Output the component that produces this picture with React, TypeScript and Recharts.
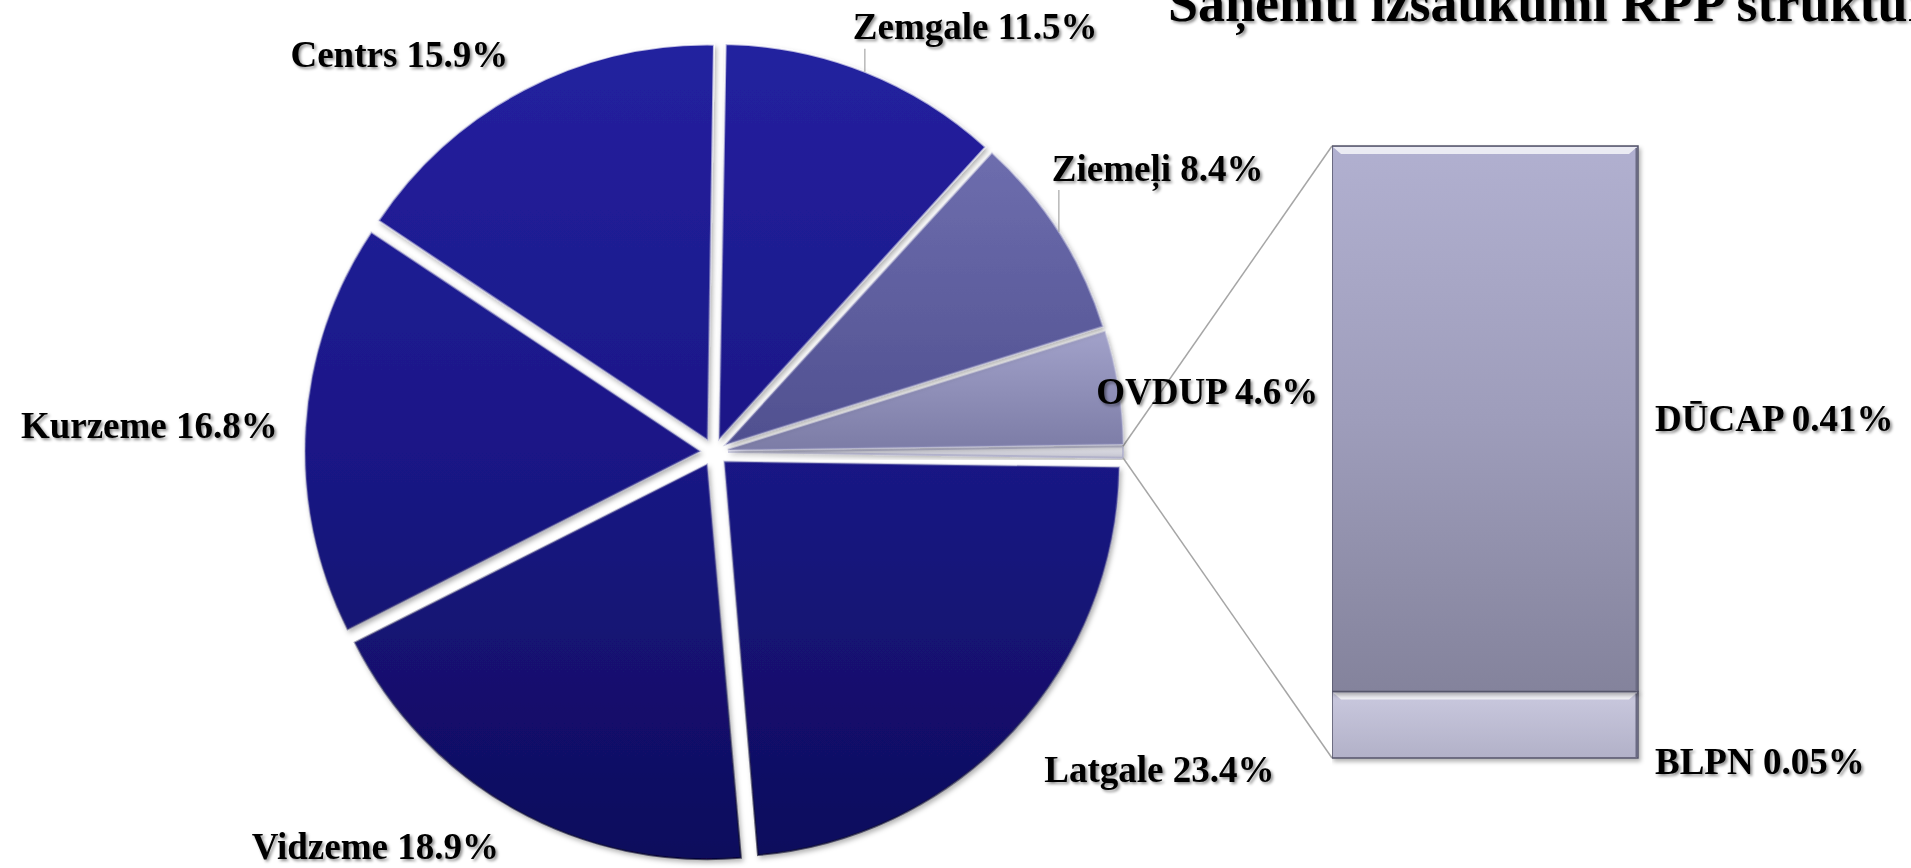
import React from 'react';
import { PieChart, Pie, Sector, BarChart, Bar, XAxis, YAxis, LabelList } from 'recharts';

// ---------- data ----------
const titleText = 'Saņemti izsaukumi RPP struktūrā';
const regionNames = ['OVDUP', 'Ziemeļi', 'Zemgale', 'Centrs', 'Kurzeme', 'Vidzeme', 'Latgale'];
const regionShares = [4.6, 8.4, 11.5, 15.9, 16.8, 18.9, 23.4];
const otherName = 'Citi';
const otherNames = ['DŪCAP', 'BLPN'];
const otherShares = [0.41, 0.05];

const otherTotal = otherShares.reduce((a, b) => a + b, 0);
const grandTotal = otherTotal + regionShares.reduce((a, b) => a + b, 0);
const pieData = [
  { name: otherName, value: otherTotal },
  ...regionNames.map((n, i) => ({ name: n, value: regionShares[i] })),
];
const barData = [
  { name: otherName, [otherNames[1]]: otherShares[1], [otherNames[0]]: otherShares[0] },
];

// ---------- layout / style ----------
const W = 1911;
const H = 868;
const PIE_CX = 714;
const PIE_CY = 452;
const PIE_R = 395;
const EXPLODE = 14;
const HALF_OTHER = ((otherTotal / grandTotal) * 360) / 2;
const BAR_X = 1332;
const BAR_TOP = 146;
const BAR_W = 306;
const BAR_H = 612;
const FONT = '"Liberation Serif", "Times New Roman", serif';
const FS = 37;

const sliceFill: Record<string, string> = {
  [otherName]: 'url(#gOther)',
  OVDUP: 'url(#gOvdup)',
  'Ziemeļi': 'url(#gZiem)',
};

type LS = { r?: number; anchor: 'start' | 'end' | 'middle'; leader?: number; dx?: number };
const labelStyle: Record<string, LS> = {
  OVDUP: { r: 380, anchor: 'start', dx: 7 },
  'Ziemeļi': { leader: 64, anchor: 'start', dx: -7 },
  Zemgale: { leader: 45, anchor: 'start', dx: -12 },
  Centrs: { r: 449, anchor: 'end', dx: 3 },
  Kurzeme: { r: 438, anchor: 'end', dx: 1 },
  Vidzeme: { r: 452, anchor: 'end', dx: 5 },
  Latgale: { r: 465, anchor: 'start', dx: -10 },
};

const RAD = Math.PI / 180;

const renderSlice = (props: any) => {
  const { cx, cy, midAngle, outerRadius, startAngle, endAngle, name, value } = props;
  const ox = EXPLODE * Math.cos(midAngle * RAD);
  const oy = -EXPLODE * Math.sin(midAngle * RAD);
  const scx = cx + ox;
  const scy = cy + oy;
  const fill = sliceFill[name] || 'url(#gNavy)';
  const parts: any[] = [
    <Sector
      key="s"
      cx={scx}
      cy={scy}
      innerRadius={0}
      outerRadius={outerRadius}
      startAngle={startAngle}
      endAngle={endAngle}
      fill={fill}
      stroke="url(#gRim)"
      strokeWidth={2}
      filter="url(#sliceShadow)"
    />,
  ];
  if (name === otherName) {
    const p1x = scx + outerRadius * Math.cos(endAngle * RAD);
    const p1y = scy - outerRadius * Math.sin(endAngle * RAD);
    const p2x = scx + outerRadius * Math.cos(startAngle * RAD);
    const p2y = scy - outerRadius * Math.sin(startAngle * RAD);
    parts.push(
      <line key="c1" x1={p1x} y1={p1y} x2={BAR_X} y2={BAR_TOP} stroke="#a6a6a6" strokeWidth={1.5} />,
      <line key="c2" x1={p2x} y1={p2y} x2={BAR_X} y2={BAR_TOP + BAR_H} stroke="#a6a6a6" strokeWidth={1.5} />
    );
    return <g>{parts}</g>;
  }
  const ls = labelStyle[name];
  const text = `${name} ${Number(value).toFixed(1)}%`;
  let tx: number;
  let ty: number;
  if (ls.leader) {
    const px = scx + outerRadius * Math.cos(midAngle * RAD);
    const py = scy - outerRadius * Math.sin(midAngle * RAD);
    tx = px + (ls.dx || 0);
    ty = py - ls.leader;
    parts.push(
      <line key="l" x1={px} y1={py} x2={px} y2={ty + 22} stroke="#a6a6a6" strokeWidth={1.2} />
    );
  } else {
    tx = cx + (ls.r as number) * Math.cos(midAngle * RAD) + (ls.dx || 0);
    ty = cy - (ls.r as number) * Math.sin(midAngle * RAD);
  }
  parts.push(
    <text
      key="t"
      x={tx}
      y={ty}
      dy="0.34em"
      textAnchor={ls.anchor}
      fontFamily={FONT}
      fontWeight="bold"
      fontSize={FS}
      fill="#000"
      filter="url(#textShadow)"
    >
      {text}
    </text>
  );
  return <g>{parts}</g>;
};

const makeBarLabel = (seriesName: string, atBottom: boolean) => (props: any) => {
  const { x, y, width, height, value } = props;
  const ly = atBottom ? Number(y) + Number(height) + 3 : Number(y) + Number(height) / 2;
  return (
    <text
      x={Number(x) + Number(width) + 17}
      y={ly}
      dy="0.34em"
      textAnchor="start"
      fontFamily={FONT}
      fontWeight="bold"
      fontSize={FS}
      fill="#000"
      filter="url(#textShadow)"
    >
      {`${seriesName} ${Number(value).toFixed(2)}%`}
    </text>
  );
};

const BevelBar = (props: any) => {
  const { x, y, width, height, fill } = props;
  if (!height || height <= 0) return null;
  return (
    <g filter="url(#barShadow)">
      <rect x={x} y={y} width={width} height={height} fill={fill} stroke="#55556a" strokeWidth={1.5} />
      <polygon
        points={`${x + 1},${y + 1} ${x + width - 1},${y + 1} ${x + width - 9},${y + 8} ${x + 9},${y + 8}`}
        fill="#ffffff"
        fillOpacity={0.75}
      />
      <line x1={x + width - 1.5} y1={y + 2} x2={x + width - 1.5} y2={y + height - 1} stroke="#6a6a82" strokeWidth={2} />
    </g>
  );
};

const Defs = () => (
  <defs>
    <linearGradient id="gNavy" gradientUnits="userSpaceOnUse" x1="0" y1="46" x2="0" y2="858">
      <stop offset="0" stopColor="#24219f" />
      <stop offset="0.5" stopColor="#1a1786" />
      <stop offset="1" stopColor="#0e0c5c" />
    </linearGradient>
    <linearGradient id="gZiem" gradientUnits="userSpaceOnUse" x1="0" y1="150" x2="0" y2="450">
      <stop offset="0" stopColor="#6e6eae" />
      <stop offset="1" stopColor="#4f4f8f" />
    </linearGradient>
    <linearGradient id="gOvdup" gradientUnits="userSpaceOnUse" x1="0" y1="330" x2="0" y2="450">
      <stop offset="0" stopColor="#a2a2ca" />
      <stop offset="1" stopColor="#7c7ca6" />
    </linearGradient>
    <linearGradient id="gOther" gradientUnits="userSpaceOnUse" x1="0" y1="444" x2="0" y2="460">
      <stop offset="0" stopColor="#f4f4f8" />
      <stop offset="1" stopColor="#b8b8c6" />
    </linearGradient>
    <linearGradient id="gRim" gradientUnits="userSpaceOnUse" x1="0" y1="46" x2="0" y2="858">
      <stop offset="0" stopColor="#ffffff" stopOpacity="0.7" />
      <stop offset="0.5" stopColor="#9090c0" stopOpacity="0.4" />
      <stop offset="1" stopColor="#000020" stopOpacity="0.6" />
    </linearGradient>
    <linearGradient id="gDucap" x1="0" y1="0" x2="0" y2="1">
      <stop offset="0" stopColor="#b1b0d0" />
      <stop offset="0.5" stopColor="#9e9dbb" />
      <stop offset="1" stopColor="#84839c" />
    </linearGradient>
    <linearGradient id="gBlpn" x1="0" y1="0" x2="0" y2="1">
      <stop offset="0" stopColor="#cac9df" />
      <stop offset="1" stopColor="#b2b1c8" />
    </linearGradient>
    <filter id="sliceShadow" x="-10%" y="-10%" width="130%" height="130%">
      <feDropShadow dx="2" dy="3" stdDeviation="2.5" floodColor="#000" floodOpacity="0.3" />
    </filter>
    <filter id="barShadow" x="-10%" y="-10%" width="130%" height="130%">
      <feDropShadow dx="2" dy="3" stdDeviation="2" floodColor="#000" floodOpacity="0.3" />
    </filter>
    <filter id="textShadow" x="-10%" y="-30%" width="130%" height="170%">
      <feDropShadow dx="2" dy="2" stdDeviation="1.5" floodColor="#000" floodOpacity="0.45" />
    </filter>
  </defs>
);

export default function App() {
  return (
    <div
      style={{
        position: 'absolute',
        left: 0,
        top: 0,
        width: W,
        height: H,
        overflow: 'hidden',
        background: '#ffffff',
      }}
    >
      <svg width={0} height={0} style={{ position: 'absolute' }}>
        <Defs />
      </svg>
      <div style={{ position: 'absolute', left: 0, top: 0 }}>
        <PieChart width={W} height={H} margin={{ top: 0, right: 0, bottom: 0, left: 0 }}>
          <Pie
            data={pieData}
            dataKey="value"
            nameKey="name"
            cx={PIE_CX}
            cy={PIE_CY}
            innerRadius={0}
            outerRadius={PIE_R}
            startAngle={-HALF_OTHER}
            endAngle={360 - HALF_OTHER}
            fill="transparent"
            stroke="none"
            label={renderSlice}
            labelLine={false}
            isAnimationActive={false}
          />
        </PieChart>
      </div>
      <div style={{ position: 'absolute', left: BAR_X, top: BAR_TOP - 10 }}>
        <BarChart
          width={BAR_W + 300}
          height={BAR_H + 60}
          data={barData}
          margin={{ top: 10, right: 300, bottom: 50, left: 0 }}
          barCategoryGap={0}
        >
          <XAxis dataKey="name" hide />
          <YAxis hide domain={[0, otherTotal]} />
          <Bar
            dataKey={otherNames[1]}
            stackId="o"
            fill="url(#gBlpn)"
            shape={BevelBar}
            isAnimationActive={false}
          >
            <LabelList dataKey={otherNames[1]} content={makeBarLabel(otherNames[1], true)} />
          </Bar>
          <Bar
            dataKey={otherNames[0]}
            stackId="o"
            fill="url(#gDucap)"
            shape={BevelBar}
            isAnimationActive={false}
          >
            <LabelList dataKey={otherNames[0]} content={makeBarLabel(otherNames[0], false)} />
          </Bar>
        </BarChart>
      </div>
      <svg width={W} height={70} style={{ position: 'absolute', left: 0, top: 0 }}>
        <text
          x={1168}
          y={21}
          fontFamily={FONT}
          fontWeight="bold"
          fontSize={54}
          fill="#000"
          filter="url(#textShadow)"
        >
          {titleText}
        </text>
      </svg>
    </div>
  );
}
